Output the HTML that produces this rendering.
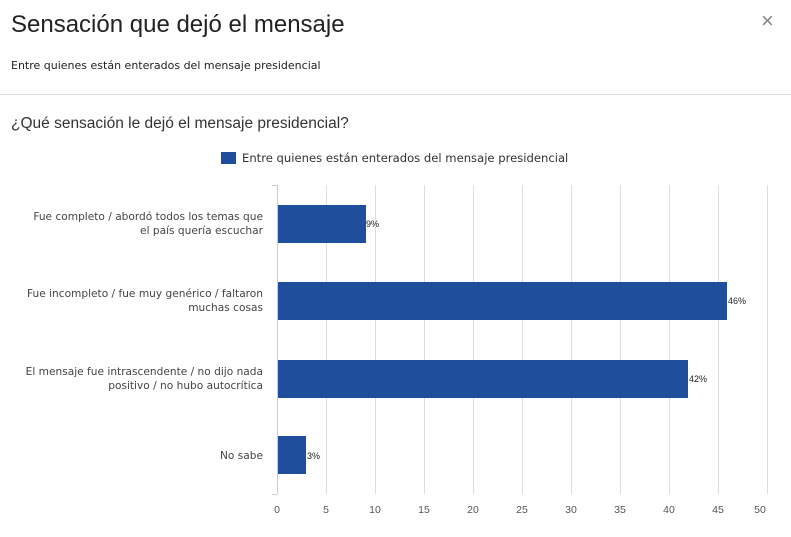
<!DOCTYPE html>
<html><head><meta charset="utf-8"><style>
body{margin:0;width:791px;height:537px;background:#fff;font-family:"Liberation Sans","DejaVu Sans",sans-serif;overflow:hidden;position:relative}
.t{position:absolute;white-space:nowrap}
</style></head><body>
<div class="t" style="left:11px;top:11px;font-size:24px;color:#222">Sensación que dejó el mensaje</div>
<div class="t" style="left:761px;top:8px;font-size:22px;color:#888">×</div>
<div class="t" style="left:11px;top:59px;font-size:11px;color:#222;font-family:'DejaVu Sans',sans-serif">Entre quienes están enterados del mensaje presidencial</div>
<div style="position:absolute;left:0;top:94px;width:791px;height:1px;background:#ddd"></div>
<div class="t" style="left:11px;top:115px;font-size:15.5px;color:#333">¿Qué sensación le dejó el mensaje presidencial?</div>
<svg width="791" height="537" style="position:absolute;left:0;top:0" font-family="DejaVu Sans, sans-serif">
<rect x="221" y="152" width="15" height="12" fill="#1f4e9c"/>
<text x="242" y="162" font-size="11.6" fill="#333">Entre quienes están enterados del mensaje presidencial</text>
<g stroke="#ddd" stroke-width="1">
<line x1="326.5" y1="185" x2="326.5" y2="494"/><line x1="375.5" y1="185" x2="375.5" y2="494"/>
<line x1="424.5" y1="185" x2="424.5" y2="494"/><line x1="473.5" y1="185" x2="473.5" y2="494"/>
<line x1="522.5" y1="185" x2="522.5" y2="494"/><line x1="571.5" y1="185" x2="571.5" y2="494"/>
<line x1="620.5" y1="185" x2="620.5" y2="494"/><line x1="669.5" y1="185" x2="669.5" y2="494"/>
<line x1="718.5" y1="185" x2="718.5" y2="494"/><line x1="767.5" y1="185" x2="767.5" y2="494"/>
</g>
<g stroke="#ccc"><line x1="277.5" y1="185" x2="277.5" y2="494"/>
<line x1="272" y1="185.5" x2="277" y2="185.5"/><line x1="272" y1="494.5" x2="277" y2="494.5"/></g>
<g fill="#1f4e9c">
<rect x="278" y="205" width="88" height="38"/>
<rect x="278" y="282" width="449" height="38"/>
<rect x="278" y="360" width="410" height="38"/>
<rect x="278" y="436" width="28" height="38"/>
</g>
<g font-size="9" fill="#222" font-family="Liberation Sans, sans-serif">
<text x="366" y="227">9%</text><text x="728" y="304">46%</text>
<text x="689" y="382">42%</text><text x="307" y="459">3%</text>
</g>
<g font-size="10.6" fill="#444" text-anchor="end">
<text x="263" y="220">Fue completo / abordó todos los temas que</text>
<text x="263" y="234">el país quería escuchar</text>
<text x="263" y="297">Fue incompleto / fue muy genérico / faltaron</text>
<text x="263" y="311">muchas cosas</text>
<text x="263" y="375">El mensaje fue intrascendente / no dijo nada</text>
<text x="263" y="389">positivo / no hubo autocrítica</text>
<text x="263" y="459">No sabe</text>
</g>
<g font-size="10.5" fill="#555" text-anchor="middle" font-family="Liberation Sans, sans-serif">
<text x="277" y="513">0</text><text x="326" y="513">5</text><text x="375" y="513">10</text>
<text x="424" y="513">15</text><text x="473" y="513">20</text><text x="522" y="513">25</text>
<text x="571" y="513">30</text><text x="620" y="513">35</text><text x="669" y="513">40</text>
<text x="718" y="513">45</text><text x="760" y="513">50</text>
</g>
</svg>
</body></html>
